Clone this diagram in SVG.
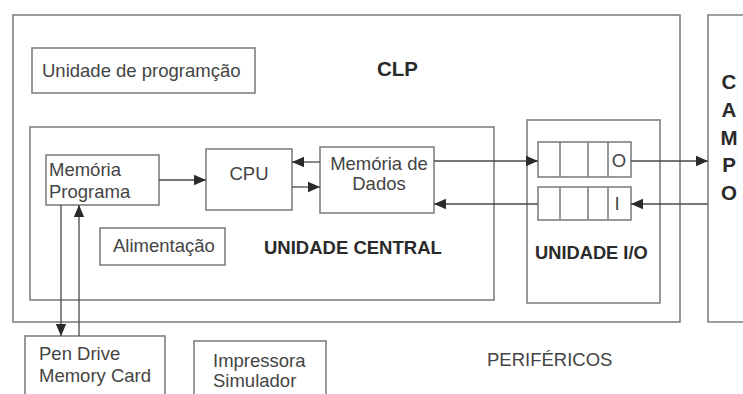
<svg xmlns="http://www.w3.org/2000/svg" width="743" height="394" viewBox="0 0 743 394">
  <style>
    .box { fill: none; stroke: #808080; stroke-width: 1.6; }
    .txt { font-family: "Liberation Sans", Arial, sans-serif; font-size: 18.5px; fill: #444; }
    .bold { font-family: "Liberation Sans", Arial, sans-serif; font-weight: bold; fill: #2a2a2a; }
    .link { fill: none; stroke: #4a4a4a; stroke-width: 1.3; }
  </style>
  <defs>
    <marker id="arrow" viewBox="0 0 12 12" refX="12" refY="6" markerWidth="12" markerHeight="12" markerUnits="userSpaceOnUse" orient="auto">
      <path d="M0,0.8 L12,6 L0,11.2 Z" fill="#2a2a2a"/>
    </marker>
  </defs>
  <rect width="743" height="394" fill="#ffffff"/>

  <!-- CLP enclosure -->
  <g id="clp">
    <rect class="box" x="13" y="15" width="667" height="307"/>
    <text class="bold" x="377" y="76" font-size="20.5">CLP</text>
  </g>

  <g id="unidade-programacao">
    <rect class="box" x="32" y="48" width="223" height="45"/>
    <text class="txt" x="42" y="77">Unidade de programção</text>
  </g>

  <!-- Central unit -->
  <g id="unidade-central">
    <rect class="box" x="30" y="127" width="464" height="173"/>
    <text class="bold" x="264" y="254" font-size="18.5">UNIDADE CENTRAL</text>
  </g>

  <g id="memoria-programa">
    <rect class="box" x="46" y="155" width="113" height="50"/>
    <text class="txt" x="49" y="176">Memória</text>
    <text class="txt" x="49" y="198">Programa</text>
  </g>

  <g id="cpu">
    <rect class="box" x="206" y="149" width="86" height="61"/>
    <text class="txt" x="249" y="180" text-anchor="middle">CPU</text>
  </g>

  <g id="memoria-dados">
    <rect class="box" x="320" y="147" width="114" height="66"/>
    <text class="txt" x="379" y="170" text-anchor="middle">Memória de</text>
    <text class="txt" x="379" y="190" text-anchor="middle">Dados</text>
  </g>

  <g id="alimentacao">
    <rect class="box" x="100" y="228" width="125" height="37"/>
    <text class="txt" x="113" y="252">Alimentação</text>
  </g>

  <!-- I/O unit with output and input registers -->
  <g id="unidade-io">
    <rect class="box" x="527" y="120" width="133" height="183"/>
    <text class="bold" x="535" y="259" font-size="18.3">UNIDADE I/O</text>
  </g>

  <g id="registro-saida">
    <rect class="box" x="538" y="142" width="93" height="35"/>
    <path class="box" d="M560,142 V177 M588,142 V177 M608,142 V177"/>
    <text class="txt" x="619" y="167" font-size="20" text-anchor="middle">O</text>
  </g>

  <g id="registro-entrada">
    <rect class="box" x="538" y="187" width="93" height="33"/>
    <path class="box" d="M560,187 V220 M588,187 V220 M608,187 V220"/>
    <text class="txt" x="617" y="210" font-size="20" text-anchor="middle">I</text>
  </g>

  <!-- Field side -->
  <g id="campo">
    <path class="box" d="M750,15 H708 V322 H750"/>
    <g class="bold" font-size="20.5" text-anchor="middle">
      <text x="729" y="89">C</text>
      <text x="729" y="117">A</text>
      <text x="729" y="145">M</text>
      <text x="729" y="172">P</text>
      <text x="729" y="200">O</text>
    </g>
  </g>

  <!-- Peripherals -->
  <g id="pen-drive">
    <rect class="box" x="25" y="336" width="140" height="70"/>
    <text class="txt" x="39" y="360">Pen Drive</text>
    <text class="txt" x="39" y="382">Memory Card</text>
  </g>

  <g id="impressora">
    <rect class="box" x="194" y="341" width="132" height="65"/>
    <text class="txt" x="213" y="367">Impressora</text>
    <text class="txt" x="213" y="387">Simulador</text>
  </g>

  <g id="perifericos">
    <text class="txt" x="487" y="366">PERIFÉRICOS</text>
  </g>

  <!-- Connectors -->
  <g id="connectors">
    <line class="link" x1="159" y1="180" x2="206" y2="180" marker-end="url(#arrow)"/>
    <line class="link" x1="320" y1="162" x2="292" y2="162" marker-end="url(#arrow)"/>
    <line class="link" x1="292" y1="187" x2="320" y2="187" marker-end="url(#arrow)"/>
    <line class="link" x1="434" y1="161" x2="538" y2="161" marker-end="url(#arrow)"/>
    <line class="link" x1="538" y1="204" x2="434" y2="204" marker-end="url(#arrow)"/>
    <line class="link" x1="631" y1="161" x2="708" y2="161" marker-end="url(#arrow)"/>
    <line class="link" x1="708" y1="204" x2="631" y2="204" marker-end="url(#arrow)"/>
    <line class="link" x1="61" y1="205" x2="61" y2="336" marker-end="url(#arrow)"/>
    <line class="link" x1="79" y1="336" x2="79" y2="205" marker-end="url(#arrow)"/>
  </g>
</svg>
